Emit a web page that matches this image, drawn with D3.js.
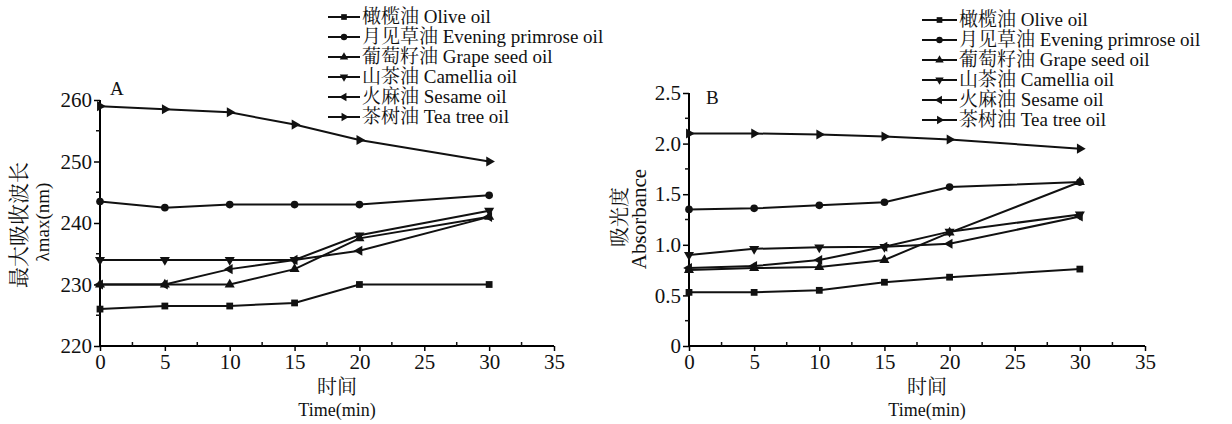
<!DOCTYPE html>
<html>
<head>
<meta charset="utf-8">
<script src="https://cdn.jsdelivr.net/npm/d3@7"></script>
<style>
  html, body { margin: 0; padding: 0; background: #fff; }
  svg { display: block; }
  text { font-family: 'Liberation Serif', 'Noto Serif CJK SC', 'Noto Sans CJK SC', serif; fill: #111; }
</style>
</head>
<body>
<svg id="chart" width="1232" height="424"></svg>
<script>
// sampling times (min)
const times = [0, 5, 10, 15, 20, 30];

const seriesNames = [
  '橄榄油 Olive oil',
  '月见草油 Evening primrose oil',
  '葡萄籽油 Grape seed oil',
  '山茶油 Camellia oil',
  '火麻油 Sesame oil',
  '茶树油 Tea tree oil'
];

// panel A: lambda max (nm)
const lambdaOlive     = [226, 226.5, 226.5, 227, 230, 230];
const lambdaPrimrose  = [243.5, 242.5, 243, 243, 243, 244.5];
const lambdaGrape     = [230, 230, 230, 232.5, 237.5, 241];
const lambdaCamellia  = [234, 234, 234, 234, 238, 242];
const lambdaSesame    = [230, 230, 232.5, 234, 235.5, 241];
const lambdaTeaTree   = [259, 258.5, 258, 256, 253.5, 250];

// panel B: absorbance
const absOlive     = [0.53, 0.53, 0.55, 0.63, 0.68, 0.76];
const absPrimrose  = [1.35, 1.36, 1.39, 1.42, 1.57, 1.62];
const absGrape     = [0.75, 0.77, 0.78, 0.85, 1.12, 1.62];
const absCamellia  = [0.90, 0.96, 0.975, 0.98, 1.13, 1.30];
const absSesame    = [0.77, 0.79, 0.85, 0.98, 1.01, 1.28];
const absTeaTree   = [2.10, 2.10, 2.09, 2.07, 2.04, 1.95];

const xTicks = [0, 5, 10, 15, 20, 25, 30, 35];
const lambdaTicks = [220, 230, 240, 250, 260];
const absTicks = [0, 0.5, 1.0, 1.5, 2.0, 2.5];
const absTickLabels = ['0', '0.5', '1.0', '1.5', '2.0', '2.5'];

// marker per series: square, circle, up, down, left, right
const markerShape = [
  { type: d3.symbolSquare, size: 46, rot: 0 },
  { type: d3.symbolCircle, size: 46, rot: 0 },
  { type: d3.symbolTriangle, size: 44, rot: 0 },
  { type: d3.symbolTriangle, size: 44, rot: 180 },
  { type: d3.symbolTriangle, size: 44, rot: -90 },
  { type: d3.symbolTriangle, size: 44, rot: 90 }
];

const svg = d3.select('#chart');

function drawPanel(opts) {
  const x = d3.scaleLinear().domain([0, 35]).range(opts.xRange);
  const y = d3.scaleLinear().domain(opts.yDomain).range(opts.yRange);
  const g = svg.append('g');

  // x axis with minor ticks
  const xAxis = g.append('g').attr('transform', `translate(0,${opts.yRange[0]})`)
    .call(d3.axisBottom(x).tickValues(xTicks).tickSize(5).tickPadding(3).tickFormat(d3.format('d')));
  xAxis.select('.domain').attr('stroke-width', 2).attr('d', `M${opts.xRange[0]},0H${opts.xRange[1]}`);
  xAxis.selectAll('.tick line').attr('stroke-width', 1.5);
  xAxis.selectAll('text').style('font-size', '21px').attr('fill', '#111');
  g.append('g').selectAll('line')
    .data(d3.range(2.5, 35, 5))
    .join('line')
    .attr('x1', d => x(d)).attr('x2', d => x(d))
    .attr('y1', opts.yRange[0]).attr('y2', opts.yRange[0] - 4)
    .attr('stroke', '#111').attr('stroke-width', 1.5);

  // y axis
  const yAxis = g.append('g').attr('transform', `translate(${opts.xRange[0]},0)`)
    .call(d3.axisLeft(y).tickValues(opts.yTicks).tickSize(6).tickPadding(2)
      .tickFormat((d, i) => opts.yTickLabels[i]));
  yAxis.select('.domain').attr('stroke-width', 2).attr('d', `M0,${opts.yRange[0]}V${opts.yRange[1]}`);
  yAxis.selectAll('.tick line').attr('stroke-width', 1.5);
  yAxis.selectAll('text').style('font-size', '21px').attr('fill', '#111');
  g.append('g').selectAll('line')
    .data(opts.yMinor)
    .join('line')
    .attr('x1', opts.xRange[0]).attr('x2', opts.xRange[0] - 4)
    .attr('y1', d => y(d)).attr('y2', d => y(d))
    .attr('stroke', '#111').attr('stroke-width', 1.5);

  // series
  const line = d3.line().x((d, i) => x(times[i])).y(d => y(d));
  opts.series.forEach((vals, si) => {
    g.append('path').datum(vals)
      .attr('fill', 'none').attr('stroke', '#111').attr('stroke-width', 2)
      .attr('d', line);
    const m = markerShape[si];
    g.selectAll(null).data(vals).join('path')
      .attr('transform', (d, i) => `translate(${x(times[i])},${y(d)}) rotate(${m.rot})`)
      .attr('d', d3.symbol().type(m.type).size(m.size))
      .attr('fill', '#111');
  });

  // panel letter
  g.append('text').attr('x', opts.letterPos[0]).attr('y', opts.letterPos[1])
    .style('font-size', '19px').text(opts.letter);

  // axis titles
  const xc = opts.xTitleX;
  g.append('text').attr('x', xc).attr('y', 394).attr('text-anchor', 'middle')
    .style('font-size', '20px').text('时间');
  g.append('text').attr('x', xc).attr('y', 416).attr('text-anchor', 'middle')
    .style('font-size', '18px').text('Time(min)');
  opts.yTitles.forEach(t => {
    g.append('text')
      .attr('transform', `translate(${t.x},${t.y}) rotate(-90)`)
      .attr('text-anchor', 'middle')
      .style('font-size', t.size + 'px').text(t.text);
  });

  // legend
  const lg = g.append('g');
  seriesNames.forEach((name, si) => {
    const ly = opts.legend.y0 + si * opts.legend.dy;
    lg.append('line')
      .attr('x1', opts.legend.x1).attr('x2', opts.legend.x2)
      .attr('y1', ly).attr('y2', ly)
      .attr('stroke', '#111').attr('stroke-width', 2);
    const m = markerShape[si];
    lg.append('path')
      .attr('transform', `translate(${(opts.legend.x1 + opts.legend.x2) / 2},${ly}) rotate(${m.rot})`)
      .attr('d', d3.symbol().type(m.type).size(m.size * 0.7))
      .attr('fill', '#111');
    lg.append('text').attr('x', opts.legend.x2 + 2).attr('y', ly + 6)
      .style('font-size', '19px').text(name);
  });
}

drawPanel({
  xRange: [100, 554],
  yRange: [346, 100],
  yDomain: [220, 260],
  yTicks: lambdaTicks,
  yTickLabels: lambdaTicks.map(String),
  yMinor: [225, 235, 245, 255],
  series: [lambdaOlive, lambdaPrimrose, lambdaGrape, lambdaCamellia, lambdaSesame, lambdaTeaTree],
  letter: 'A',
  letterPos: [110, 95],
  xTitleX: 337,
  yTitles: [
    { text: '最大吸收波长', x: 26, y: 225, size: 21 },
    { text: 'λmax(nm)', x: 49, y: 222, size: 19 }
  ],
  legend: { x1: 328, x2: 360, y0: 17, dy: 20 }
});

drawPanel({
  xRange: [689, 1145],
  yRange: [346, 93],
  yDomain: [0, 2.5],
  yTicks: absTicks,
  yTickLabels: absTickLabels,
  yMinor: [0.25, 0.75, 1.25, 1.75, 2.25],
  series: [absOlive, absPrimrose, absGrape, absCamellia, absSesame, absTeaTree],
  letter: 'B',
  letterPos: [706, 104],
  xTitleX: 927,
  yTitles: [
    { text: '吸光度', x: 627, y: 217, size: 20 },
    { text: 'Absorbance', x: 646, y: 219, size: 21 }
  ],
  legend: { x1: 922, x2: 957, y0: 20, dy: 20 }
});
</script>
</body>
</html>
